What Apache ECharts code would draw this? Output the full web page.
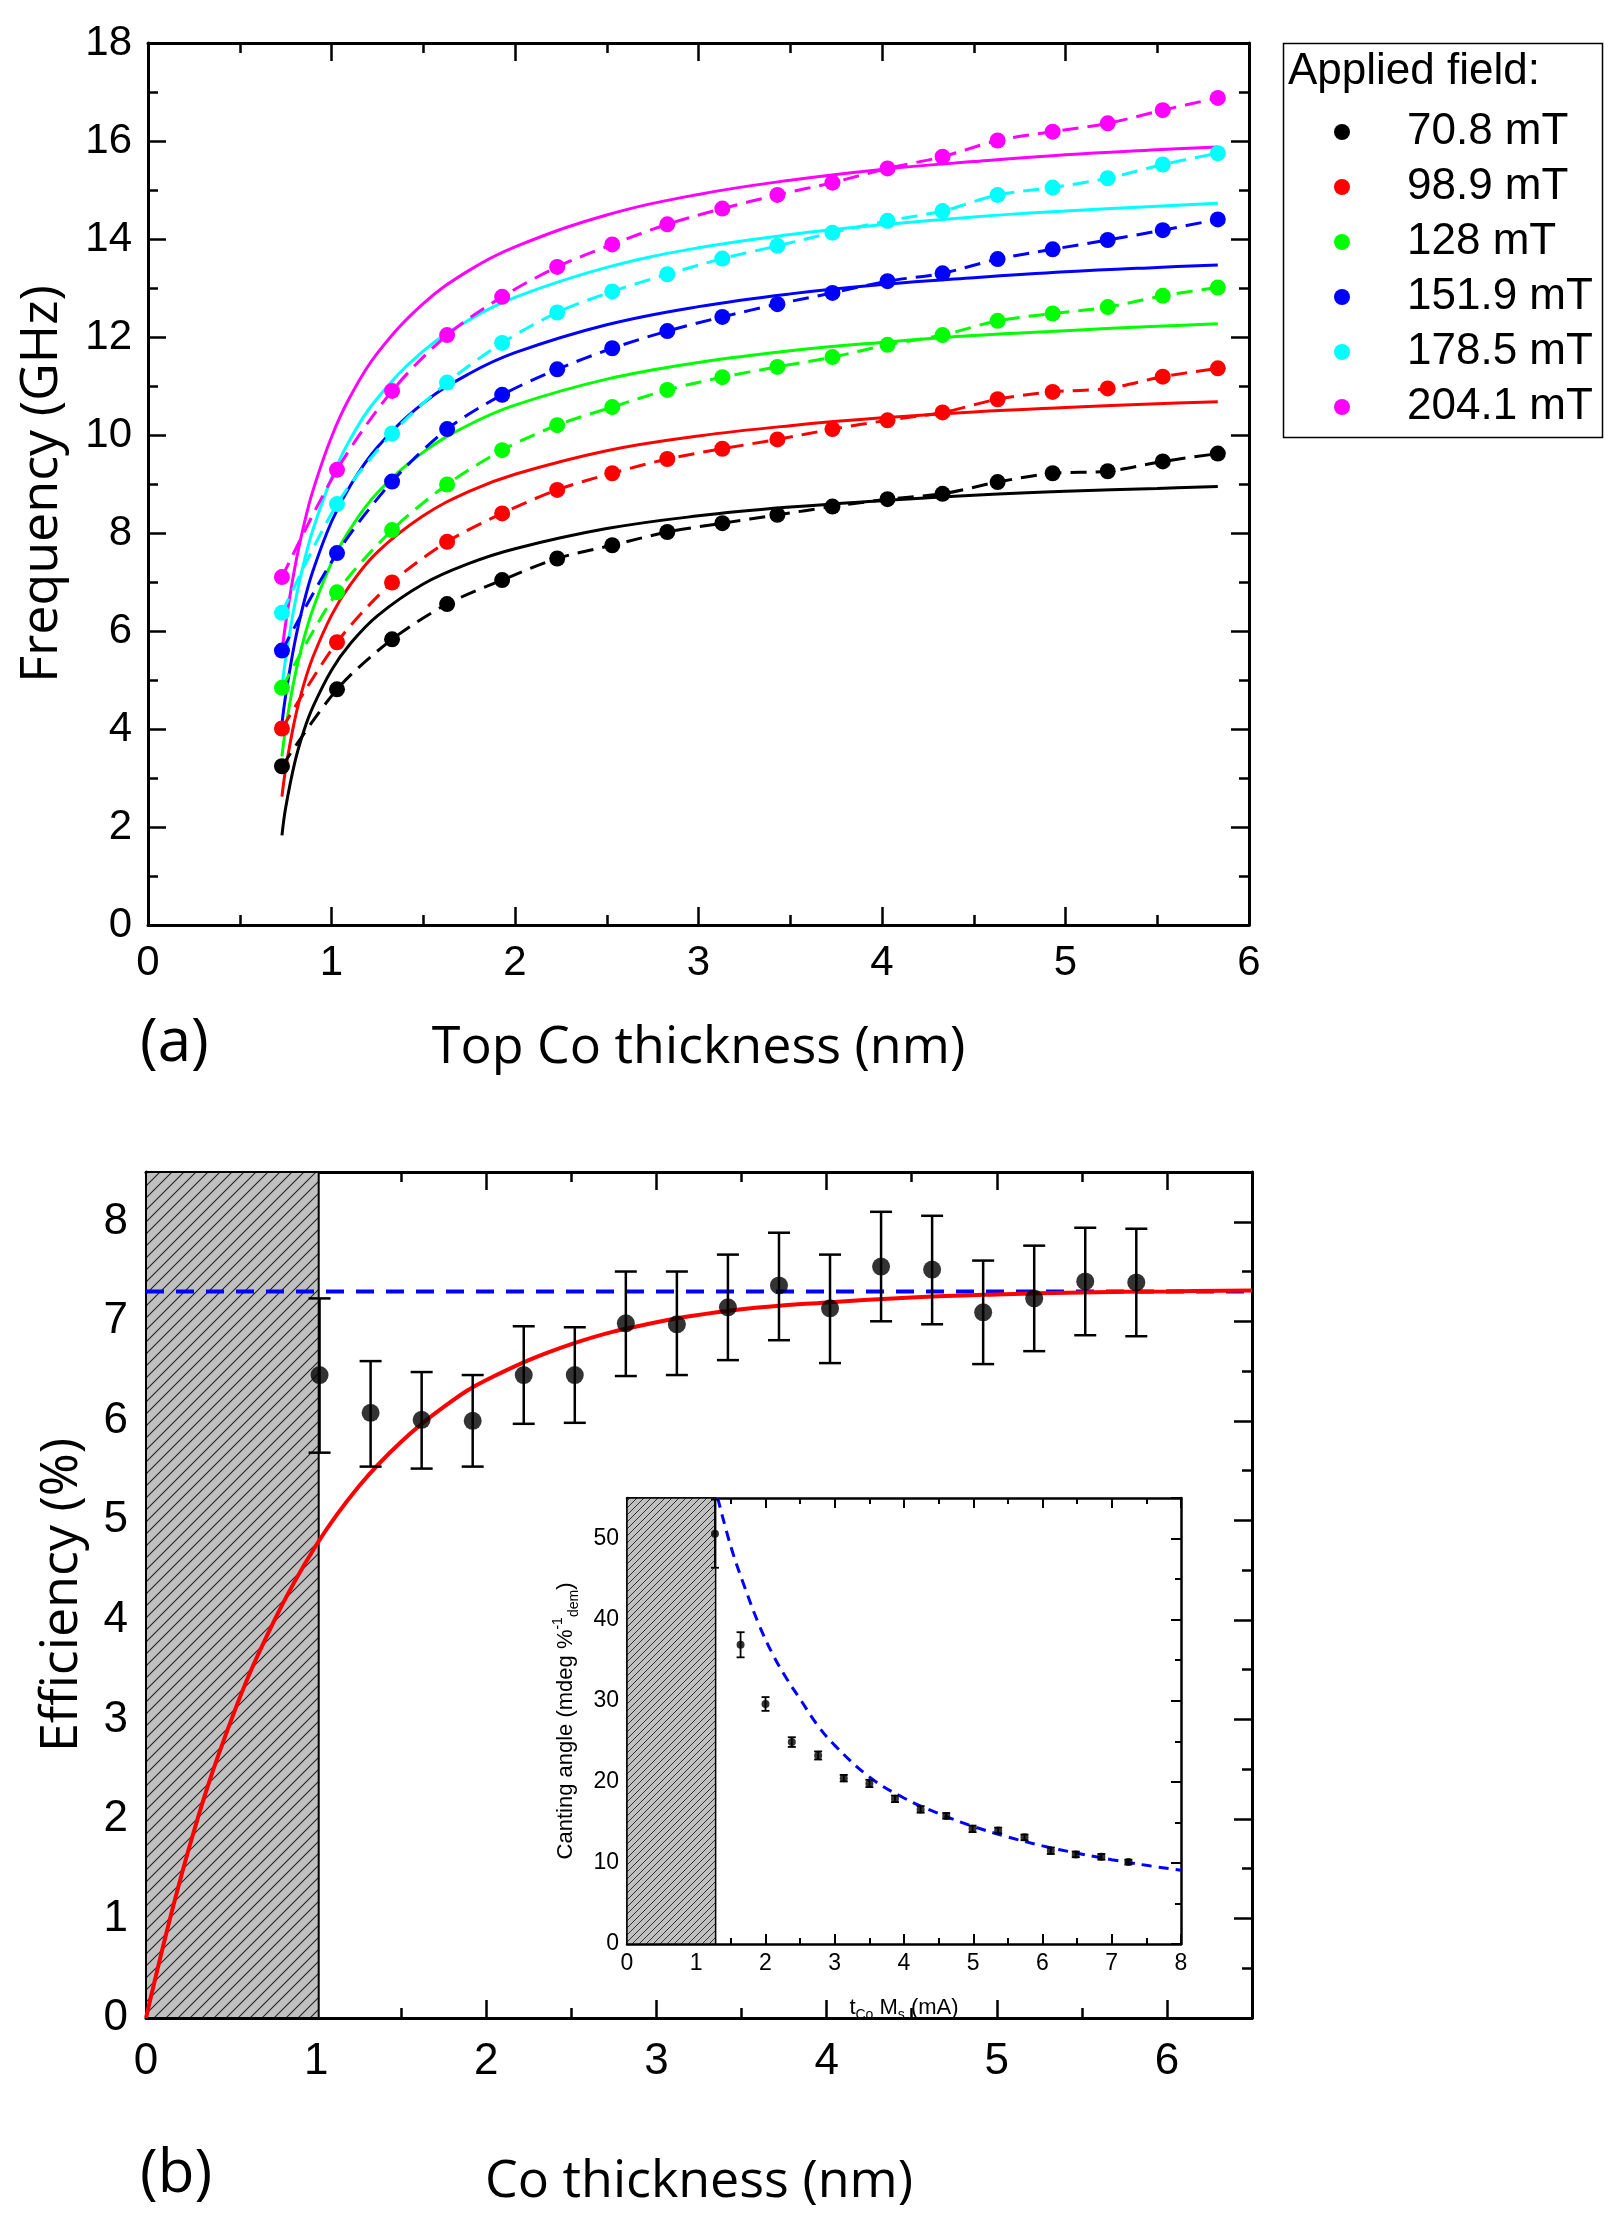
<!DOCTYPE html>
<html><head><meta charset="utf-8">
<script src="https://cdn.jsdelivr.net/npm/echarts@6/dist/echarts.min.js"></script>
<style>html,body{margin:0;padding:0;background:#fff}#c{width:1619px;height:2229px}</style>
</head><body><div id="c"></div>
<script>
// ---------------- DATA: panel (a) ----------------
const thickness = [0.73,1.03,1.33,1.63,1.93,2.23,2.53,2.83,3.13,3.43,3.73,4.03,4.33,4.63,4.93,5.23,5.53,5.83];
const fieldNames = ['70.8 mT','98.9 mT','128 mT','151.9 mT','178.5 mT','204.1 mT'];
const freq708  = [3.24,4.81,5.83,6.55,7.04,7.48,7.75,8.02,8.20,8.37,8.54,8.69,8.80,9.04,9.22,9.26,9.46,9.62];
const freq989  = [4.01,5.77,6.99,7.82,8.40,8.88,9.22,9.51,9.72,9.91,10.12,10.30,10.46,10.73,10.88,10.95,11.19,11.36];
const freq128  = [4.84,6.79,8.06,8.99,9.69,10.20,10.57,10.92,11.18,11.39,11.59,11.84,12.04,12.33,12.48,12.61,12.84,13.01];
const freq1519 = [5.60,7.59,9.05,10.12,10.82,11.34,11.77,12.12,12.41,12.67,12.90,13.14,13.30,13.59,13.79,13.98,14.18,14.40];
const freq1785 = [6.37,8.59,10.03,11.07,11.88,12.50,12.93,13.28,13.60,13.86,14.13,14.37,14.57,14.90,15.05,15.24,15.52,15.75];
const freq2041 = [7.10,9.29,10.90,12.04,12.82,13.43,13.89,14.30,14.62,14.90,15.15,15.44,15.68,16.01,16.19,16.36,16.63,16.88];
// solid model curves
const fitThickness = [0.73,0.75,0.8,0.85,0.9,1.0,1.1,1.25,1.5,1.75,2.0,2.5,3.0,3.5,4.0,4.5,5.0,5.5,5.83];
const fit708  = [1.83,2.39,3.32,3.97,4.46,5.20,5.73,6.31,6.96,7.38,7.68,8.09,8.35,8.53,8.66,8.77,8.85,8.91,8.95];
const fit989  = [2.62,3.18,4.19,4.92,5.48,6.32,6.93,7.61,8.35,8.85,9.20,9.68,9.98,10.19,10.35,10.47,10.56,10.64,10.68];
const fit128  = [3.44,4.01,5.07,5.85,6.46,7.39,8.07,8.82,9.65,10.21,10.61,11.14,11.48,11.72,11.89,12.03,12.13,12.22,12.27];
const fit1519 = [4.11,4.68,5.77,6.59,7.24,8.23,8.95,9.75,10.65,11.25,11.68,12.25,12.62,12.88,13.07,13.21,13.33,13.42,13.47];
const fit1785 = [4.85,5.43,6.55,7.40,8.08,9.12,9.90,10.75,11.71,12.35,12.81,13.42,13.82,14.09,14.29,14.45,14.57,14.67,14.73];
const fit2041 = [5.57,6.15,7.29,8.17,8.88,9.96,10.77,11.67,12.68,13.36,13.84,14.49,14.91,15.20,15.42,15.58,15.72,15.82,15.88];
const fieldColors = ['#000000','#ff0000','#00ff00','#0000ff','#00ffff','#ff00ff'];

// ---------------- DATA: panel (b) ----------------
const coThickness = [1.02,1.32,1.62,1.92,2.22,2.52,2.82,3.12,3.42,3.72,4.02,4.32,4.62,4.92,5.22,5.52,5.82];
const efficiency  = [6.46,6.08,6.01,6.00,6.46,6.46,6.98,6.97,7.14,7.36,7.13,7.55,7.52,7.09,7.23,7.40,7.39];
const effLow      = [5.68,5.54,5.52,5.54,5.97,5.98,6.45,6.46,6.61,6.81,6.58,7.00,6.97,6.57,6.70,6.86,6.85];
const effHigh     = [7.23,6.60,6.49,6.46,6.95,6.94,7.50,7.50,7.67,7.89,7.67,8.10,8.06,7.61,7.76,7.94,7.93];
const effFitX = [0,0.25,0.5,0.75,1.0,1.25,1.5,1.75,2.0,2.5,3.0,3.5,4.0,4.5,5.0,5.5,6.0,6.5];
const effFitY = [0,1.69,2.99,3.98,4.75,5.34,5.79,6.14,6.41,6.77,6.99,7.12,7.19,7.24,7.27,7.29,7.30,7.31];
const effLimitX = [0,6.5];
const effLimitY = [7.30,7.30];
const hatchEnd = 1.015;

// ---------------- DATA: inset ----------------
const insetX    = [1.27,1.64,2.00,2.38,2.76,3.13,3.50,3.87,4.24,4.61,4.99,5.36,5.74,6.12,6.48,6.85,7.24];
const insetY    = [50.6,36.9,29.6,24.9,23.25,20.45,19.8,17.9,16.6,15.8,14.2,14.0,13.15,11.5,11.05,10.75,10.1];
const insetLow  = [46.4,35.35,28.75,24.3,22.75,20.05,19.35,17.5,16.2,15.45,13.8,13.65,12.8,11.1,10.7,10.4,9.8];
const insetHigh = [54.8,38.45,30.45,25.5,23.75,20.85,20.25,18.3,17.0,16.15,14.6,14.35,13.5,11.9,11.4,11.1,10.4];
const insetFitX = [1.31,1.5,1.7,1.9,2.1,2.3,2.5,2.75,3.0,3.5,4.0,4.5,5.0,5.5,6.0,6.5,7.0,7.5,8.0];
const insetFitY = [55.0,49.0,44.0,39.5,35.8,32.8,30.2,27.0,24.5,20.6,18.0,16.1,14.5,13.2,12.1,11.2,10.4,9.7,9.1];
const insetHatchEnd = 1.28;

// ---------------- helpers ----------------
const SANS = 'Liberation Sans';
const HUM = 'Open Sans';
function hatch(size, lw) {
  const c = document.createElement('canvas');
  c.width = size; c.height = size;
  const g = c.getContext('2d');
  g.fillStyle = '#c0c0c0'; g.fillRect(0, 0, size, size);
  g.strokeStyle = '#222'; g.lineWidth = lw;
  g.beginPath();
  g.moveTo(-1, size + 1); g.lineTo(size + 1, -1);
  g.moveTo(-2, 2); g.lineTo(2, -2);
  g.moveTo(size - 2, size + 2); g.lineTo(size + 2, size - 2);
  g.stroke();
  return c;
}
const xAxes = [], yAxes = [];
function addAxes(list, dim, grid, min, max, major, minor, o) {
  const pos = dim === 'x' ? ['bottom', 'top'] : ['left', 'right'];
  const base = (position, interval, len, lineShow) => ({
    type: 'value', gridIndex: grid, min, max, interval, position,
    splitLine: {show: false},
    axisLine: {show: lineShow, onZero: false, lineStyle: {color: '#000', width: o.lw}},
    axisTick: {show: true, inside: true, length: len, lineStyle: {color: '#000', width: o.tw}},
    axisLabel: {show: false}
  });
  const main = base(pos[0], minor, o.minorLen, true);
  main.axisLabel = {
    show: true, margin: o.margin, color: '#000', fontFamily: o.labelFont, fontSize: o.labelSize,
    formatter: v => Math.abs(v / major - Math.round(v / major)) < 1e-6 ? String(Math.round(v * 100) / 100) : ''
  };
  if (o.name) {
    main.name = o.name; main.nameLocation = 'middle'; main.nameGap = o.nameGap;
    main.nameTextStyle = Object.assign({color: '#000', fontFamily: o.nameFont, fontSize: o.nameSize}, o.nameExtra || {});
  }
  const idx = list.length;
  list.push(main);
  list.push(base(pos[0], major, o.majorLen, false));
  list.push(base(pos[1], minor, o.minorLen, true));
  list.push(base(pos[1], major, o.majorLen, false));
  return idx;
}

// panel (a) axes
const ax0 = addAxes(xAxes, 'x', 0, 0, 6, 1, 0.5, {lw: 3, tw: 2.5, majorLen: 18, minorLen: 10, margin: 17,
  labelFont: SANS, labelSize: 42, name: 'Top Co thickness (nm)', nameGap: 97, nameFont: HUM, nameSize: 52});
const ay0 = addAxes(yAxes, 'y', 0, 0, 18, 2, 1, {lw: 3, tw: 2.5, majorLen: 18, minorLen: 10, margin: 16,
  labelFont: SANS, labelSize: 42, name: 'Frequency (GHz)', nameGap: 80, nameFont: HUM, nameSize: 52});
// panel (b) axes
const ax1 = addAxes(xAxes, 'x', 1, 0, 6.5, 1, 0.5, {lw: 3, tw: 2.5, majorLen: 18, minorLen: 10, margin: 22,
  labelFont: SANS, labelSize: 44, name: 'Co thickness (nm)', nameGap: 138, nameFont: HUM, nameSize: 52});
const ay1 = addAxes(yAxes, 'y', 1, 0, 8.5, 1, 0.5, {lw: 3, tw: 2.5, majorLen: 18, minorLen: 10, margin: 18,
  labelFont: SANS, labelSize: 44, name: 'Efficiency (%)', nameGap: 58, nameFont: HUM, nameSize: 52});
// inset axes
const ax2 = addAxes(xAxes, 'x', 2, 0, 8, 1, 0.5, {lw: 2.5, tw: 2, majorLen: 10, minorLen: 6, margin: 8,
  labelFont: SANS, labelSize: 23, name: '{a|t}{s|Co}{a| M}{s|s}{a| (mA)}', nameGap: 50, nameFont: SANS, nameSize: 22,
  nameExtra: {rich: {a: {fontFamily: SANS, fontSize: 22, lineHeight: 28, color: '#000'},
                     s: {fontFamily: SANS, fontSize: 14, lineHeight: 14, verticalAlign: 'bottom', color: '#000'}}}});
const ay2 = addAxes(yAxes, 'y', 2, 0, 55, 10, 5, {lw: 2.5, tw: 2, majorLen: 10, minorLen: 6, margin: 8,
  labelFont: SANS, labelSize: 23, name: '{a|Canting angle (mdeg %}{u|-1}{s|dem}{a|)}', nameGap: 46, nameFont: SANS, nameSize: 22,
  nameExtra: {rich: {a: {fontFamily: SANS, fontSize: 22, lineHeight: 30, color: '#000'},
                     u: {fontFamily: SANS, fontSize: 14, lineHeight: 14, verticalAlign: 'top', color: '#000'},
                     s: {fontFamily: SANS, fontSize: 14, lineHeight: 14, verticalAlign: 'bottom', color: '#000'}}}});

// ---------------- series ----------------
const pairs = (xs, ys) => xs.map((x, i) => [x, ys[i]]);
const series = [];
const freqSets = [freq708, freq989, freq128, freq1519, freq1785, freq2041];
const fitSets = [fit708, fit989, fit128, fit1519, fit1785, fit2041];
fieldNames.forEach((name, i) => {
  series.push({
    name: name + ' model', type: 'line', xAxisIndex: ax0, yAxisIndex: ay0, data: pairs(fitThickness, fitSets[i]),
    smooth: 0.4, showSymbol: false, symbol: 'none', silent: true, z: 2,
    lineStyle: {color: fieldColors[i], width: 3}
  });
  series.push({
    name: name, type: 'line', xAxisIndex: ax0, yAxisIndex: ay0, data: pairs(thickness, freqSets[i]),
    smooth: 0.3, symbol: 'circle', symbolSize: 16, z: 3,
    itemStyle: {color: fieldColors[i]},
    lineStyle: {color: fieldColors[i], width: 3, type: [16, 9]}
  });
});

const hatchBig = hatch(12, 1.1);
const hatchSmall = hatch(7, 0.9);
series.push({
  name: 'hatch b', type: 'line', xAxisIndex: ax1, yAxisIndex: ay1, data: [], z: 1, silent: true,
  markArea: {silent: true, itemStyle: {color: {image: hatchBig, repeat: 'repeat'}, borderColor: '#000', borderWidth: 2},
    data: [[{xAxis: 0, yAxis: 0}, {xAxis: hatchEnd, yAxis: 8.5}]]}
});
series.push({
  name: 'limit', type: 'line', xAxisIndex: ax1, yAxisIndex: ay1, data: pairs(effLimitX, effLimitY),
  symbol: 'none', z: 3, lineStyle: {color: '#0000ff', width: 4, type: [18, 12]}
});
series.push({
  name: 'efficiency model', type: 'line', xAxisIndex: ax1, yAxisIndex: ay1, data: pairs(effFitX, effFitY),
  smooth: 0.4, symbol: 'none', z: 4, lineStyle: {color: '#ff0000', width: 4}
});
function errorBars(xi, yi, xs, lo, hi, cap, lw, z) {
  return {
    type: 'custom', xAxisIndex: xi, yAxisIndex: yi, z, clip: true, silent: true,
    data: xs.map((x, i) => [x, lo[i], hi[i]]),
    encode: {x: 0, y: [1, 2]},
    renderItem: (params, api) => {
      const x = api.value(0);
      const a = api.coord([x, api.value(1)]);
      const b = api.coord([x, api.value(2)]);
      const st = {stroke: '#000', lineWidth: lw};
      return {type: 'group', children: [
        {type: 'line', shape: {x1: a[0], y1: a[1], x2: b[0], y2: b[1]}, style: st},
        {type: 'line', shape: {x1: a[0] - cap, y1: a[1], x2: a[0] + cap, y2: a[1]}, style: st},
        {type: 'line', shape: {x1: b[0] - cap, y1: b[1], x2: b[0] + cap, y2: b[1]}, style: st}
      ]};
    }
  };
}
series.push(errorBars(ax1, ay1, coThickness, effLow, effHigh, 11, 2.5, 5));
series.push({
  name: 'efficiency', type: 'scatter', xAxisIndex: ax1, yAxisIndex: ay1, data: pairs(coThickness, efficiency),
  symbol: 'circle', symbolSize: 18, z: 6, itemStyle: {color: '#000'}
});
// inset
series.push({
  name: 'hatch inset', type: 'line', xAxisIndex: ax2, yAxisIndex: ay2, data: [], z: 1, silent: true,
  markArea: {silent: true, itemStyle: {color: {image: hatchSmall, repeat: 'repeat'}, borderColor: '#000', borderWidth: 1.5},
    data: [[{xAxis: 0, yAxis: 0}, {xAxis: insetHatchEnd, yAxis: 55}]]}
});
series.push({
  name: 'canting model', type: 'line', xAxisIndex: ax2, yAxisIndex: ay2, data: pairs(insetFitX, insetFitY),
  smooth: 0.4, symbol: 'none', z: 3, lineStyle: {color: '#0000ff', width: 3, type: [10, 7]}
});
series.push(errorBars(ax2, ay2, insetX, insetLow, insetHigh, 4, 1.8, 4));
series.push({
  name: 'canting', type: 'scatter', xAxisIndex: ax2, yAxisIndex: ay2, data: pairs(insetX, insetY),
  symbol: 'circle', symbolSize: 8, z: 5, itemStyle: {color: '#000'}
});

const chart = echarts.init(document.getElementById('c'), null, {renderer: 'canvas'});
chart.setOption({
  animation: false,
  backgroundColor: '#fff',
  grid: [
    {left: 148, top: 43, width: 1101, height: 882, containLabel: false},
    {left: 146, top: 1172, width: 1106, height: 846, containLabel: false},
    {left: 627, top: 1498, width: 554, height: 446, containLabel: false, show: true, backgroundColor: '#fff', borderWidth: 0}
  ],
  xAxis: xAxes,
  yAxis: yAxes,
  legend: {
    data: fieldNames, orient: 'vertical', left: 1329, top: 105, icon: 'circle',
    itemWidth: 16, itemHeight: 16, itemGap: 11, selectedMode: false,
    textStyle: {fontFamily: SANS, fontSize: 44, lineHeight: 44, color: '#000', padding: [0, 0, 0, 52]}
  },
  graphic: [
    {type: 'rect', left: 1281, top: 41, shape: {width: 319, height: 394}, style: {fill: 'none', stroke: '#000', lineWidth: 1.5}, z: 10},
    {type: 'text', left: 1288, top: 50, style: {text: 'Applied field:', font: '44px "Liberation Sans"', fill: '#000'}, z: 10},
    {type: 'text', x: 140, y: 1044, style: {text: '(a)', font: '60px "Open Sans"', fill: '#000', textVerticalAlign: 'middle', verticalAlign: 'middle'}, z: 10},
    {type: 'text', x: 140, y: 2175, style: {text: '(b)', font: '60px "Open Sans"', fill: '#000', textVerticalAlign: 'middle', verticalAlign: 'middle'}, z: 10}
  ],
  series
});
</script></body></html>
